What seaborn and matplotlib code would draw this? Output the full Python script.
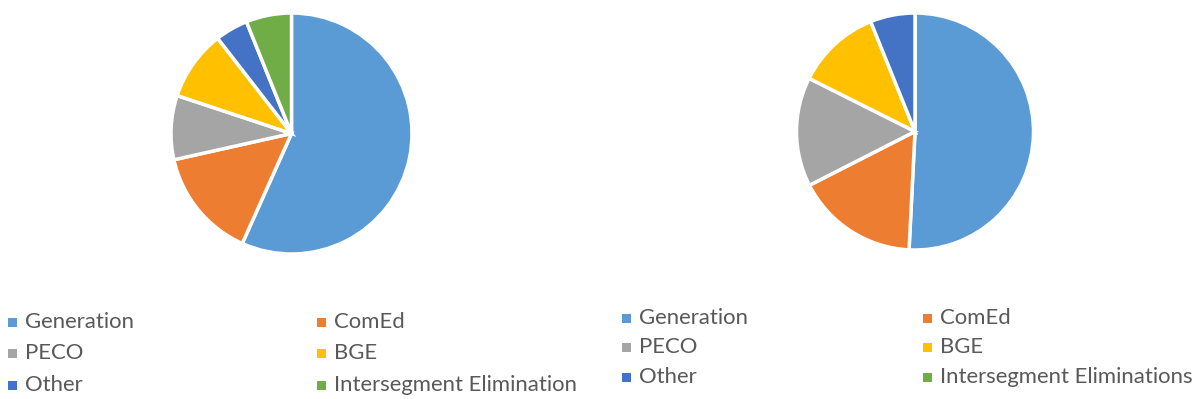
import matplotlib
matplotlib.use("Agg")
import matplotlib.pyplot as plt
import seaborn as sns
from matplotlib.patches import Rectangle

categories_left = ["Generation", "ComEd", "PECO", "BGE", "Other", "Intersegment Elimination"]
values_left = [56.7, 14.8, 8.6, 9.4, 4.4, 6.1]
categories_right = ["Generation", "ComEd", "PECO", "BGE", "Other", "Intersegment Eliminations"]
values_right = [50.8, 16.7, 14.9, 11.5, 6.1, 0.0]
colors = ["#5B9BD5", "#ED7D31", "#A5A5A5", "#FFC000", "#4472C4", "#70AD47"]

sns.set_theme(style="white")
plt.rcParams['font.family'] = ['Lato', 'DejaVu Sans']

W, H = 1196, 399
fig = plt.figure(figsize=(W / 100, H / 100), dpi=100)
fig.patch.set_facecolor("white")


def pie_at(cx, cy, r, cats, vals):
    ax = fig.add_axes([(cx - r) / W, (H - cy - r) / H, 2 * r / W, 2 * r / H])
    pairs = [(v, c) for v, c in zip(vals, colors) if v > 0]
    ax.pie([p[0] for p in pairs], colors=[p[1] for p in pairs], startangle=90,
           counterclock=False, radius=1.0,
           wedgeprops=dict(edgecolor="white", linewidth=2.5))
    ax.set_xlim(-1.0, 1.0)
    ax.set_ylim(-1.0, 1.0)
    ax.set_aspect("equal")
    ax.axis("off")


def legend_at(cats, col_x, row_y, fs=15.9):
    for i, cat in enumerate(cats):
        x = col_x[i % 2]
        y = row_y[i // 2]
        s = 9
        fig.patches.append(Rectangle(((x - s / 2) / W, (H - y - s / 2) / H), s / W, s / H,
                                     transform=fig.transFigure, facecolor=colors[i],
                                     edgecolor="none"))
        fig.text((x + 13) / W, (H - y) / H, cat, fontsize=fs, color="#595959",
                 va="center", ha="left")


pie_at(291.5, 133.5, 120.5, categories_left, values_left)
pie_at(915, 131.5, 118.5, categories_right, values_right)

legend_at(categories_left, [12, 321], [322, 353, 385])
legend_at(categories_right, [626, 927], [318, 347, 377])

fig.savefig("out.png", dpi=100, facecolor="white")
